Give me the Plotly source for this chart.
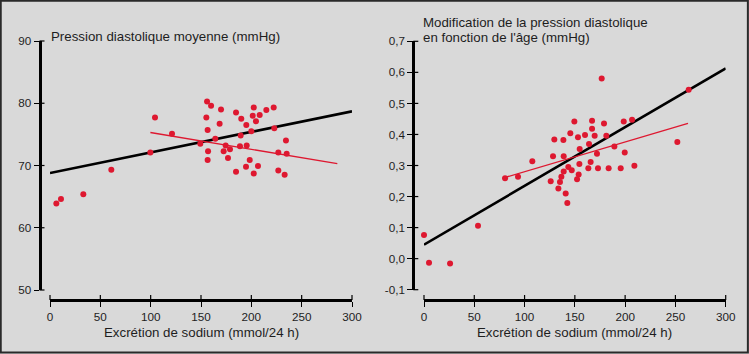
import plotly.graph_objects as go

# ---------------- data ----------------
# Left panel: mean diastolic pressure vs sodium excretion
left_x = [6.3, 10.9, 33.1, 60.9, 99.7, 104.3, 121.2, 149.3, 156.0, 160.0, 155.3, 156.6, 157.0,
          156.6, 164.2, 169.9, 168.5, 174.5, 172.5, 178.8, 176.8, 184.8, 190.0, 189.4, 188.7,
          184.8, 195.0, 195.4, 194.7, 198.4, 200.0, 201.4, 202.4, 204.6, 208.3, 202.4, 206.6,
          214.9, 222.2, 222.8, 226.8, 226.8, 234.4, 235.1, 233.1]
left_y = [63.9, 64.6, 65.4, 69.3, 72.1, 77.7, 75.1, 73.5, 80.3, 79.6, 77.7, 75.7, 72.3,
          70.9, 74.3, 79.0, 76.7, 73.2, 72.3, 72.6, 71.2, 78.5, 77.5, 74.8, 73.1,
          69.0, 76.5, 73.2, 69.8, 70.9, 75.5, 78.0, 79.3, 77.1, 78.1, 68.7, 69.9,
          78.9, 79.3, 76.0, 72.1, 69.2, 74.0, 71.9, 68.5]
left_fit_all_x = [0, 300]
left_fit_all_y = [68.8, 78.7]
left_fit_sub_x = [99.7, 285.4]
left_fit_sub_y = [75.3, 70.3]
left_yticks = [50, 60, 70, 80, 90]
left_ytext = ["50", "60", "70", "80", "90"]

# Right panel: change of diastolic pressure with age vs sodium excretion
right_x = [0.0, 5.0, 25.9, 53.7, 80.6, 93.5, 107.7, 126.0, 128.3, 129.6, 133.6, 135.2, 136.6,
           138.6, 138.9, 138.9, 140.9, 142.5, 143.5, 145.5, 146.9, 149.5, 152.2, 153.1, 153.8,
           154.5, 154.8, 160.1, 163.4, 164.1, 165.7, 167.1, 167.1, 169.7, 172.0, 173.0, 176.7,
           179.0, 181.3, 183.6, 189.3, 195.6, 198.6, 199.6, 206.9, 209.2, 251.9, 263.2]
right_y = [0.076, -0.013, -0.016, 0.106, 0.259, 0.264, 0.314, 0.249, 0.330, 0.384, 0.226, 0.247, 0.264,
           0.382, 0.330, 0.281, 0.210, 0.179, 0.295, 0.404, 0.285, 0.442, 0.256, 0.391, 0.271,
           0.305, 0.353, 0.398, 0.291, 0.369, 0.311, 0.444, 0.418, 0.396, 0.338, 0.291, 0.580,
           0.435, 0.396, 0.291, 0.361, 0.291, 0.442, 0.342, 0.447, 0.299, 0.376, 0.544]
right_fit_all_x = [0, 300]
right_fit_all_y = [0.045, 0.613]
right_fit_sub_x = [78.0, 262.5]
right_fit_sub_y = [0.259, 0.436]
right_yticks = [-0.1, 0.0, 0.1, 0.2, 0.3, 0.4, 0.5, 0.6, 0.7]
right_ytext = ["-0,1", "0,0", "0,1", "0,2", "0,3", "0,4", "0,5", "0,6", "0,7"]

x_ticks = [0, 50, 100, 150, 200, 250, 300]
x_ticktext = ["0", "50", "100", "150", "200", "250", "300"]

x_title = "Excrétion de sodium (mmol/24 h)"
left_title = "Pression diastolique moyenne (mmHg)"
right_title_1 = "Modification de la pression diastolique"
right_title_2 = "en fonction de l'âge (mmHg)"

# ---------------- style ----------------
W, H = 749, 354
BG = "#d9d9d9"
RED = "#de1830"
INK = "#1e1e1e"
FONT = "Liberation Sans, Arial, Helvetica, sans-serif"


def px_x(p):
    return p / W


def px_y(p):
    return 1 - p / H


fig = go.Figure()

# left panel traces
fig.add_trace(go.Scatter(x=left_fit_all_x, y=left_fit_all_y, mode="lines",
                         line=dict(color="black", width=2.6), xaxis="x", yaxis="y",
                         cliponaxis=False, hoverinfo="skip"))
fig.add_trace(go.Scatter(x=left_fit_sub_x, y=left_fit_sub_y, mode="lines",
                         line=dict(color=RED, width=1.3), xaxis="x", yaxis="y",
                         cliponaxis=False, hoverinfo="skip"))
fig.add_trace(go.Scatter(x=left_x, y=left_y, mode="markers",
                         marker=dict(color=RED, size=6, line=dict(width=0)),
                         xaxis="x", yaxis="y", cliponaxis=False))

# right panel traces
fig.add_trace(go.Scatter(x=right_fit_all_x, y=right_fit_all_y, mode="lines",
                         line=dict(color="black", width=2.6), xaxis="x2", yaxis="y2",
                         cliponaxis=False, hoverinfo="skip"))
fig.add_trace(go.Scatter(x=right_fit_sub_x, y=right_fit_sub_y, mode="lines",
                         line=dict(color=RED, width=1.3), xaxis="x2", yaxis="y2",
                         cliponaxis=False, hoverinfo="skip"))
fig.add_trace(go.Scatter(x=right_x, y=right_y, mode="markers",
                         marker=dict(color=RED, size=6, line=dict(width=0)),
                         xaxis="x2", yaxis="y2", cliponaxis=False))

# panel geometry (pixels)
L = dict(x0=50, x1=352, ytop=41, ybot=290, yaxis_px=39.5, xaxis_px=300)
R = dict(x0=424, x1=725.7, ytop=41.3, ybot=289.7, yaxis_px=413.3, xaxis_px=300)

axis_common = dict(showgrid=False, zeroline=False, showline=True, linecolor="black",
                   linewidth=3, ticks="outside", ticklen=5, tickwidth=1.2,
                   tickcolor="black", tickfont=dict(family=FONT, size=11.7, color=INK),
                   anchor="free", fixedrange=True, automargin=False)

fig.update_layout(
    width=W, height=H, margin=dict(l=0, r=0, t=0, b=0, pad=0, autoexpand=False),
    paper_bgcolor=BG, plot_bgcolor=BG, showlegend=False,
    font=dict(family=FONT, color=INK),
    xaxis=dict(domain=[px_x(L["x0"]), px_x(L["x1"])], range=[0, 300],
               tickvals=x_ticks, ticktext=x_ticktext,
               position=px_y(L["xaxis_px"]), **axis_common),
    yaxis=dict(domain=[px_y(L["ybot"]), px_y(L["ytop"])], range=[50, 90],
               tickvals=left_yticks, ticktext=left_ytext,
               position=px_x(L["yaxis_px"]), **axis_common),
    xaxis2=dict(domain=[px_x(R["x0"]), px_x(R["x1"])], range=[0, 300],
                tickvals=x_ticks, ticktext=x_ticktext,
                position=px_y(R["xaxis_px"]), **axis_common),
    yaxis2=dict(domain=[px_y(R["ybot"]), px_y(R["ytop"])], range=[-0.1, 0.7],
                tickvals=right_yticks, ticktext=right_ytext,
                position=px_x(R["yaxis_px"]), **axis_common),
)

shapes = []
# inner halves of the crossing tick marks
for xa, geo in (("x", L), ("x2", R)):
    for v in x_ticks:
        shapes.append(dict(type="line", xref=xa + " domain", yref="paper",
                           x0=v / 300, x1=v / 300, ysizemode="pixel",
                           yanchor=px_y(geo["xaxis_px"]), y0=0, y1=5,
                           line=dict(color="black", width=1.2)))
for ya, geo, vals, rng in (("y", L, left_yticks, (50, 90)), ("y2", R, right_yticks, (-0.1, 0.7))):
    for v in vals:
        f = (v - rng[0]) / (rng[1] - rng[0])
        shapes.append(dict(type="line", yref=ya + " domain", xref="paper",
                           y0=f, y1=f, xsizemode="pixel",
                           xanchor=px_x(geo["yaxis_px"]), x0=0, x1=5,
                           line=dict(color="black", width=1.2)))
# outer frame
shapes.append(dict(type="rect", xref="paper", yref="paper", x0=0.001, x1=0.9985,
                   y0=0.004, y1=0.998, line=dict(color="#2a2a2a", width=2),
                   fillcolor="rgba(0,0,0,0)"))
fig.update_layout(shapes=shapes)

ann_font = dict(family=FONT, size=13.3, color=INK)
annotations = [
    dict(text=left_title, xref="paper", yref="paper", x=px_x(49), y=px_y(36.5),
         xanchor="left", yanchor="middle", showarrow=False, font=ann_font),
    dict(text=right_title_1, xref="paper", yref="paper", x=px_x(421), y=px_y(22.8),
         xanchor="left", yanchor="middle", showarrow=False, font=ann_font),
    dict(text=right_title_2, xref="paper", yref="paper", x=px_x(421), y=px_y(37.2),
         xanchor="left", yanchor="middle", showarrow=False, font=ann_font),
    dict(text=x_title, xref="x", yref="paper", x=150, y=px_y(332.5),
         xanchor="center", yanchor="middle", showarrow=False, font=ann_font),
    dict(text=x_title, xref="x2", yref="paper", x=150, y=px_y(332.5),
         xanchor="center", yanchor="middle", showarrow=False, font=ann_font),
]
fig.update_layout(annotations=annotations)

fig.write_html("out.html")
